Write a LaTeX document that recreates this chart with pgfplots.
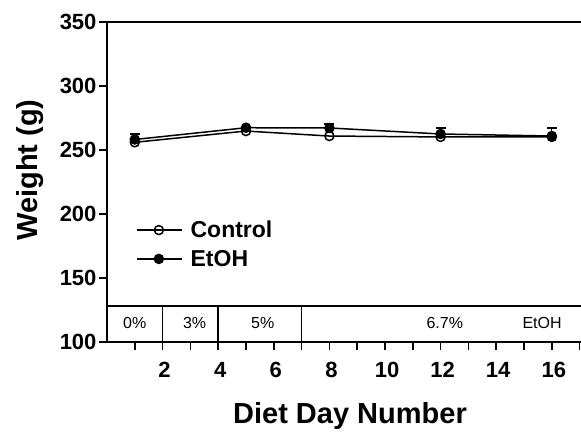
\documentclass[border=0pt]{standalone}
\usepackage{pgfplots}
\pgfplotsset{compat=1.18}
\usepackage{fontspec}
\setmainfont{Liberation Sans}
\begin{document}
\begin{tikzpicture}
\useasboundingbox (0,0) rectangle (581pt,435pt);
\begin{axis}[
  at={(107pt,93pt)}, anchor=south west,
  scale only axis, width=474pt, height=320pt,
  xmin=0, xmax=17.05, ymin=100, ymax=350,
  axis x line*=bottom, axis y line*=left,
  axis line style={line width=1.8pt},
  xtick={2,4,...,16}, minor xtick={1,3,...,17},
  ytick={100,150,...,350},
  tick align=outside,
  major tick length=8pt, minor tick length=8pt,
  every tick/.style={black, line width=1.5pt},
  /pgf/number format/assume math mode=true,
  tick label style={font=\fontsize{22}{26}\selectfont\bfseries},
  yticklabel style={xshift=1pt},
  xticklabel style={yshift=-9pt, xshift=2pt},
  legend style={draw=none, fill=none, at={(rel axis cs:0.061,0.385)}, anchor=north west,
    font=\fontsize{23}{27}\selectfont\bfseries, row sep=7pt, inner sep=0pt},
  legend cell align=left,
  legend image code/.code={\draw[mark repeat=2,mark phase=2] plot coordinates {(0pt,0pt) (22pt,0pt) (45pt,0pt)}; \path (51pt,0pt);},
  reverse legend,
  clip=false,
]
\addplot[black, line width=1.5pt, mark=*, mark size=4.5pt, mark options={fill=black},
  error bars/.cd, y dir=plus, y explicit,
  error bar style={line width=1.3pt},
  error mark options={rotate=90, mark size=5pt, line width=1.3pt}]
  coordinates {
  (1,258.2) +- (0,4.3)
  (5,267.4) +- (0,1.2)
  (8,267.2) +- (0,3.1)
  (12,262.5) +- (0,4.7)
  (16,260.9) +- (0,6.3)
  };
\addlegendentry{EtOH}
\addplot[black, line width=1.5pt, mark=o, mark size=4.5pt, mark options={fill=white}]
  coordinates {(1,256.0) (5,264.8) (8,260.9) (12,260.2) (16,260.2)};
\addlegendentry{Control}
\draw[line width=1.8pt] (axis cs:0,350) -- (axis cs:17.05,350);
\draw[line width=1.8pt] (axis cs:0,128.1) -- (axis cs:17.05,128.1);
\draw[line width=1.5pt] (axis cs:2,100) -- (axis cs:2,128.1);
\draw[line width=1.5pt] (axis cs:4,100) -- (axis cs:4,128.1);
\draw[line width=1.5pt] (axis cs:7,100) -- (axis cs:7,128.1);
\node[font=\fontsize{16}{19}\selectfont] at (axis cs:1,114.5) {0\%};
\node[font=\fontsize{16}{19}\selectfont] at (axis cs:3.15,114.5) {3\%};
\node[font=\fontsize{16}{19}\selectfont] at (axis cs:5.6,114.5) {5\%};
\node[font=\fontsize{16}{19}\selectfont] at (axis cs:12.15,114.5) {6.7\%};
\node[font=\fontsize{16}{19}\selectfont] at (axis cs:15.65,114.5) {EtOH};
\end{axis}
\node[font=\fontsize{29}{34}\selectfont\bfseries] at (350pt,19pt) {Diet Day Number};
\node[font=\fontsize{29}{34}\selectfont\bfseries, rotate=90] at (30pt,265pt) {Weight (g)};
\end{tikzpicture}
\end{document}
